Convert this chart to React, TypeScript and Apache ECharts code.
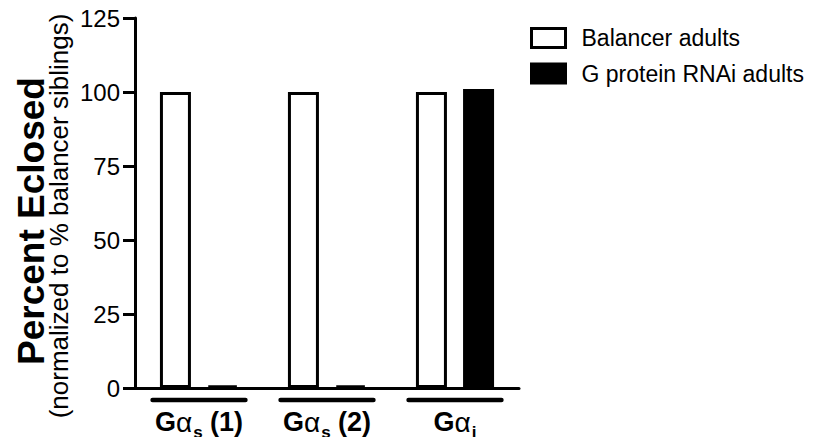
import React, { useEffect, useRef } from "react";
import * as echarts from "echarts";

const categories = ["Gαs (1)", "Gαs (2)", "Gαi"];
const subscripts = ["s", "s", "i"];
const suffixes = [" (1)", " (2)", ""];
const balancerAdults = [100, 100, 100];
const rnaiAdults = [0.8, 0.8, 101];
const yTicks = { min: 0, max: 125, interval: 25 };
const seriesNames = ["Balancer adults", "G protein RNAi adults"];
const yTitle = "Percent Eclosed";
const ySubtitle = "(normalized to % balancer siblings)";

const FONT = "'Liberation Sans', Arial, Helvetica, sans-serif";

export default function App() {
  const ref = useRef<HTMLDivElement>(null);
  useEffect(() => {
    if (!ref.current) return;
    const chart = echarts.init(ref.current, undefined, { renderer: "svg" });
    const option: any = {
      animation: false,
      backgroundColor: "#fff",
      textStyle: { fontFamily: FONT },
      grid: { left: 135, right: 298, top: 18, bottom: 57, containLabel: false },
      legend: {
        orient: "vertical",
        left: 530,
        top: 26,
        padding: 0,
        itemWidth: 34,
        itemHeight: 19,
        itemGap: 11.5,
        icon: "rect",
        selectedMode: false,
        textStyle: { fontSize: 23, color: "#000", fontFamily: FONT, lineHeight: 24, padding: [0, 0, 0, 11] },
        data: [
          { name: seriesNames[0], itemStyle: { color: "#fff", borderColor: "#000", borderWidth: 3 } },
          { name: seriesNames[1], itemStyle: { color: "#000", borderColor: "#000", borderWidth: 3 } },
        ],
      },
      xAxis: {
        type: "category",
        data: categories,
        axisLine: { show: true, lineStyle: { color: "#000", width: 3 } },
        axisTick: { show: false },
        axisLabel: {
          interval: 0,
          margin: 20,
          color: "#000",
          formatter: (_v: string, i: number) => `{g|G}{a|α}{s|${subscripts[i]}}{g|${suffixes[i]}}`,
          rich: {
            g: { fontSize: 27, fontWeight: "bold", verticalAlign: "top", fontFamily: FONT, color: "#000" },
            a: { fontSize: 28, verticalAlign: "top", fontFamily: FONT, color: "#000" },
            s: { fontSize: 17, fontWeight: "bold", verticalAlign: "top", padding: [16, 0, 0, 1], fontFamily: FONT, color: "#000" },
          },
        },
      },
      yAxis: {
        type: "value",
        min: yTicks.min,
        max: yTicks.max,
        interval: yTicks.interval,
        axisLine: { show: true, lineStyle: { color: "#000", width: 3 } },
        axisTick: { show: true, length: 12, lineStyle: { color: "#000", width: 3 } },
        axisLabel: { fontSize: 24, color: "#000", margin: 15, fontFamily: FONT },
        splitLine: { show: false },
      },
      graphic: [
        {
          type: "text",
          x: 31,
          y: 221,
          rotation: Math.PI / 2,
          style: { text: yTitle, fontSize: 37, fontWeight: "bold", fill: "#000", align: "center", verticalAlign: "middle", fontFamily: FONT },
        },
        {
          type: "text",
          x: 59,
          y: 216,
          rotation: Math.PI / 2,
          style: { text: ySubtitle, fontSize: 26, fill: "#000", align: "center", verticalAlign: "middle", fontFamily: FONT },
        },
      ],
      series: [
        {
          name: seriesNames[0],
          type: "bar",
          data: balancerAdults,
          barWidth: 31,
          barGap: "52%",
          itemStyle: { color: "#fff", borderColor: "#000", borderWidth: 3 },
        },
        {
          name: seriesNames[1],
          type: "bar",
          data: rnaiAdults,
          barWidth: 31,
          barGap: "52%",
          itemStyle: { color: "#000", borderColor: "#000", borderWidth: 3 },
        },
        {
          type: "custom",
          silent: true,
          data: categories.map((_c, i) => [i, 0]),
          encode: { x: 0, y: 1 },
          renderItem: (_params: any, api: any) => {
            const p = api.coord([api.value(0), 0]);
            const bw = api.size([1, 0])[0];
            const half = bw * 0.363;
            return {
              type: "line",
              shape: { x1: p[0] - half, y1: p[1] + 12, x2: p[0] + half, y2: p[1] + 12 },
              style: { stroke: "#000", lineWidth: 4.5, lineCap: "round" },
            };
          },
        },
      ],
    };
    chart.setOption(option);
    return () => chart.dispose();
  }, []);
  return <div ref={ref} style={{ width: 817, height: 445, margin: -8 }} />;
}
